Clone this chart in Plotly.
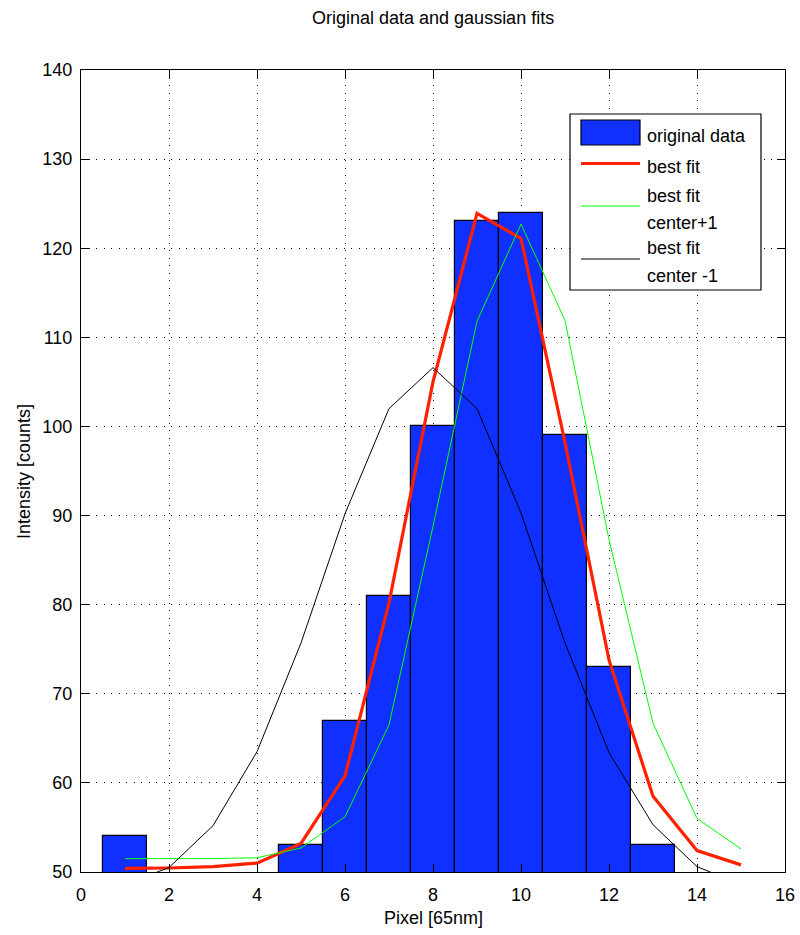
import plotly.graph_objects as go

# ---- data ----
pixels = list(range(1, 16))
counts = [54, None, None, None, 53, 67, 81, 100, 123, 124, 99, 73, 53, None, None]
best_fit = [50.4, 50.45, 50.6, 51.0, 53.2, 60.8, 80.2, 105.0, 123.9, 121.1, 98.2, 73.8, 58.5, 52.4, 50.8]
fit_center_plus1 = [51.5, 51.5, 51.5, 51.6, 52.7, 56.2, 66.5, 88.8, 111.8, 122.7, 111.9, 87.3, 66.7, 56.0, 52.6]
fit_center_minus1 = [48.6, 50.5, 55.2, 63.5, 75.7, 90.2, 102.0, 106.6, 102.0, 90.3, 75.7, 63.4, 55.3, 50.6, 48.6]

x_ticks = [0, 2, 4, 6, 8, 10, 12, 14, 16]
y_ticks = [50, 60, 70, 80, 90, 100, 110, 120, 130, 140]

legend_lines = ["original data", "best fit", "best fit", "center+1", "best fit", "center -1"]

# ---- layout geometry (pixels) ----
W, H = 800, 935
L, R, T, B = 81, 785, 70, 872
FONT = "Liberation Sans, Arial, Helvetica, sans-serif"
FS = 18
BAR_BLUE = "rgb(16,48,255)"


def px(xp):
    return (xp - L) / (R - L)


def py(yp):
    return (B - yp) / (B - T)


fig = go.Figure()
fig.add_trace(go.Bar(x=pixels, y=counts, width=1, marker=dict(color=BAR_BLUE, line=dict(color="black", width=1.2)),
                     showlegend=False))
fig.add_trace(go.Scatter(x=pixels, y=best_fit, mode="lines", line=dict(color="rgb(255,32,0)", width=3.2), showlegend=False))
fig.add_trace(go.Scatter(x=pixels, y=fit_center_plus1, mode="lines", line=dict(color="rgb(0,255,0)", width=1), showlegend=False))
fig.add_trace(go.Scatter(x=pixels, y=fit_center_minus1, mode="lines", line=dict(color="black", width=1), showlegend=False))

axis_common = dict(
    showline=True, linecolor="black", linewidth=1, mirror="ticks",
    ticks="inside", ticklen=8, tickcolor="black", tickwidth=1,
    showgrid=True, gridcolor="black", gridwidth=1, griddash="1px,6.5px",
    zeroline=False, automargin=False, tickfont=dict(family=FONT, size=FS, color="black"),
)

fig.update_layout(
    width=W, height=H,
    margin=dict(l=L, r=W - R, t=T, b=H - B),
    paper_bgcolor="white", plot_bgcolor="white",
    xaxis=dict(range=[0, 16], tickvals=x_ticks, ticklabelstandoff=6, **axis_common),
    yaxis=dict(range=[50, 140], tickvals=y_ticks, ticklabelstandoff=4, **axis_common),
    bargap=0,
    font=dict(family=FONT, size=FS, color="black"),
)

shapes = []
annotations = []
# legend box
shapes.append(dict(type="rect", xref="paper", yref="paper", x0=px(570), x1=px(761), y0=py(290), y1=py(114),
                   fillcolor="white", line=dict(color="black", width=1.2), layer="above"))
# legend bar swatch
shapes.append(dict(type="rect", xref="paper", yref="paper", x0=px(581), x1=px(640), y0=py(145), y1=py(120),
                   fillcolor=BAR_BLUE, line=dict(color="black", width=1.2), layer="above"))
line_samples = [(163.5, "rgb(255,32,0)", 3), (206, "rgb(0,255,0)", 1.2), (259, "black", 1.2)]
for yy, col, wd in line_samples:
    shapes.append(dict(type="line", xref="paper", yref="paper", x0=px(581), x1=px(640), y0=py(yy), y1=py(yy),
                       line=dict(color=col, width=wd), layer="above"))
text_y = [135.7, 166.7, 195.7, 223.3, 248.3, 275.7]
for yy, txt in zip(text_y, legend_lines):
    annotations.append(dict(xref="paper", yref="paper", x=px(645), y=py(yy), xanchor="left", yanchor="middle",
                            text=txt, showarrow=False, align="left",
                            font=dict(family=FONT, size=FS, color="black")))

# title and axis labels
annotations.append(dict(xref="paper", yref="paper", x=0.5, y=py(18), xanchor="center", yanchor="middle",
                        text="Original data and gaussian fits", showarrow=False,
                        font=dict(family=FONT, size=FS, color="black")))
annotations.append(dict(xref="paper", yref="paper", x=0.5, y=py(918), xanchor="center", yanchor="middle",
                        text="Pixel [65nm]", showarrow=False, font=dict(family=FONT, size=FS, color="black")))
annotations.append(dict(xref="paper", yref="paper", x=px(24), y=py(472), xanchor="center", yanchor="middle",
                        text="Intensity [counts]", textangle=-90, showarrow=False,
                        font=dict(family=FONT, size=FS, color="black")))

fig.update_layout(shapes=shapes, annotations=annotations)
fig.write_html("out.html")
